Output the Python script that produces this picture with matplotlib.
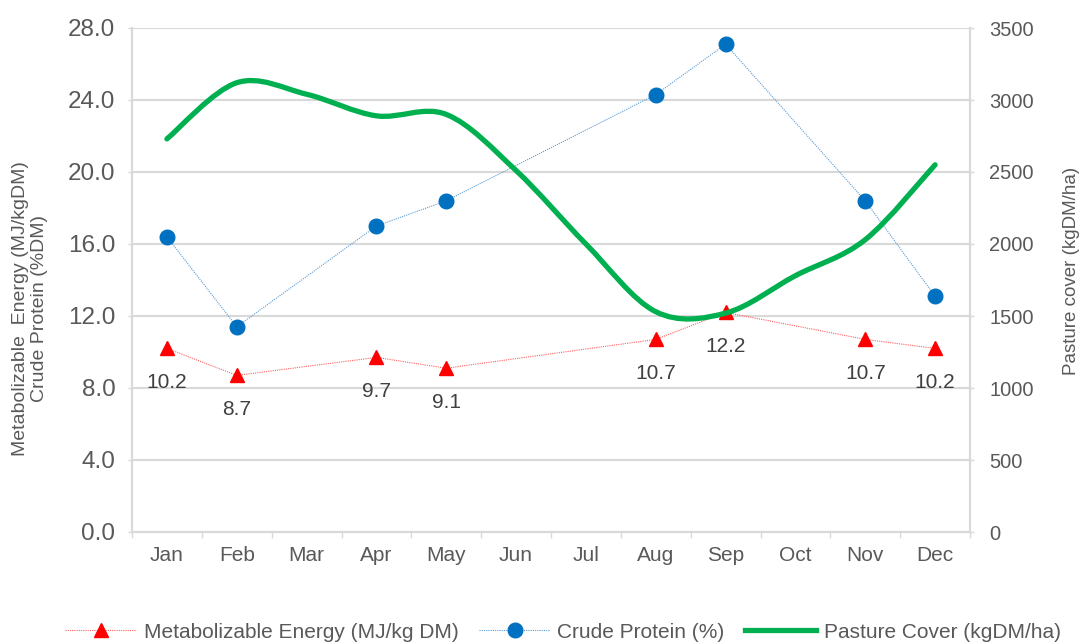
import matplotlib.pyplot as plt
import numpy as np
from matplotlib.path import Path
from matplotlib.patches import PathPatch
from matplotlib.lines import Line2D

plt.rcParams['font.family'] = ['Liberation Sans', 'DejaVu Sans']

months = ['Jan', 'Feb', 'Mar', 'Apr', 'May', 'Jun', 'Jul', 'Aug', 'Sep', 'Oct', 'Nov', 'Dec']

# ME / CP measured months (index into months)
me_idx = [0, 1, 3, 4, 7, 8, 10, 11]
me_vals = [10.2, 8.7, 9.7, 9.1, 10.7, 12.2, 10.7, 10.2]
cp_idx = [0, 1, 3, 4, 7, 8, 10, 11]
cp_vals = [16.4, 11.4, 17.0, 18.4, 24.3, 27.1, 18.4, 13.1]

# pasture cover, every month
pc_vals = [2730, 3120, 3040, 2890, 2900, 2510, 2000, 1530, 1520, 1780, 2030, 2550]

text_col = '#595959'
grid_col = '#d9d9d9'

fig = plt.figure(figsize=(10.83, 6.44), dpi=100)
ax = fig.add_axes([132 / 1083, 1 - 532 / 644, (970 - 132) / 1083, (532 - 28) / 644])
ax2 = ax.twinx()

# excel-style smoothed line: cubic bezier through the points
x = np.arange(len(pc_vals), dtype=float)
y = np.array(pc_vals, dtype=float)
verts = [(x[0], y[0])]
codes = [Path.MOVETO]
for i in range(len(x) - 1):
    p0 = (x[i - 1], y[i - 1]) if i > 0 else (x[i], y[i])
    p3 = (x[i + 2], y[i + 2]) if i + 2 < len(x) else (x[i + 1], y[i + 1])
    c1 = (x[i] + (x[i + 1] - p0[0]) / 6, y[i] + (y[i + 1] - p0[1]) / 6)
    c2 = (x[i + 1] - (p3[0] - x[i]) / 6, y[i + 1] - (p3[1] - y[i]) / 6)
    verts += [c1, c2, (x[i + 1], y[i + 1])]
    codes += [Path.CURVE4] * 3
ax2.add_patch(PathPatch(Path(verts, codes), facecolor='none', edgecolor='#00B050',
                        lw=3.8, capstyle='round', joinstyle='round', zorder=3))

ax.plot(me_idx, me_vals, color='#FF6060', lw=0.8, ls=(0, (1, 1)), marker='^',
        ms=10.5, mfc='#FF0000', mec='#FF0000', zorder=4)
ax.plot(cp_idx, cp_vals, color='#5B9BD5', lw=0.8, ls=(0, (1, 1)), marker='o',
        ms=10.5, mfc='#0070C0', mec='#0070C0', zorder=4)

for i, v in zip(me_idx, me_vals):
    ax.annotate(f'{v:.1f}', (i, v), xytext=(0, -24.5), textcoords='offset points',
                ha='center', va='center', fontsize=15, color='#404040', zorder=5)

ax.set_xlim(-0.5, 11.5)
ax.set_ylim(0, 28)
ax.set_yticks(np.arange(0, 28.1, 4))
ax.set_yticklabels([f'{t:.1f}' for t in np.arange(0, 28.1, 4)])
ax2.set_ylim(0, 3500)
ax2.set_yticks(np.arange(0, 3501, 500))

ax.set_xticks(range(12))
ax.set_xticklabels(months)
ax.set_xticks(np.arange(-0.5, 12, 1), minor=True)
ax.tick_params(axis='x', which='major', length=0, pad=10, labelsize=15, colors=text_col)
ax.tick_params(axis='x', which='minor', length=4.5, width=1, color=grid_col)
ax.tick_params(axis='y', length=3, width=1, color=grid_col, labelsize=17.5, labelcolor=text_col, pad=9)
ax2.tick_params(axis='y', length=3, width=1, color=grid_col, labelsize=14.5, labelcolor=text_col, pad=11)

ax.grid(axis='y', color=grid_col, lw=1.5)
ax.set_axisbelow(True)
for a in (ax, ax2):
    a.spines['top'].set_visible(False)
    for s in ('left', 'right', 'bottom'):
        a.spines[s].set_color(grid_col)
        a.spines[s].set_linewidth(1.5)

fig.text(30 / 1083, 1 - 309 / 644, 'Metabolizable  Energy (MJ/kgDM)\nCrude Protein (%DM)',
         rotation=90, ha='center', va='center', multialignment='center',
         fontsize=14, color=text_col, linespacing=1.15)
fig.text(1072 / 1083, 1 - 271 / 644, 'Pasture cover (kgDM/ha)', rotation=90,
         ha='center', va='center', fontsize=13.5, color=text_col)

handles = [
    Line2D([], [], color='#FF6060', lw=0.8, ls=(0, (1, 1)), marker='^', ms=10.5,
           mfc='#FF0000', mec='#FF0000'),
    Line2D([], [], color='#5B9BD5', lw=0.8, ls=(0, (1, 1)), marker='o', ms=10.5,
           mfc='#0070C0', mec='#0070C0'),
    Line2D([], [], color='#00B050', lw=3.8),
]
labels = ['Metabolizable Energy (MJ/kg DM)', 'Crude Protein (%)', 'Pasture Cover (kgDM/ha)']
leg = fig.legend(handles, labels, loc='center', bbox_to_anchor=(563 / 1083, 1 - 632 / 644),
                 ncol=3, frameon=False, fontsize=15, handlelength=3.4, handletextpad=0.35,
                 columnspacing=1.0, labelcolor=text_col)

fig.savefig('out.png', dpi=100)
